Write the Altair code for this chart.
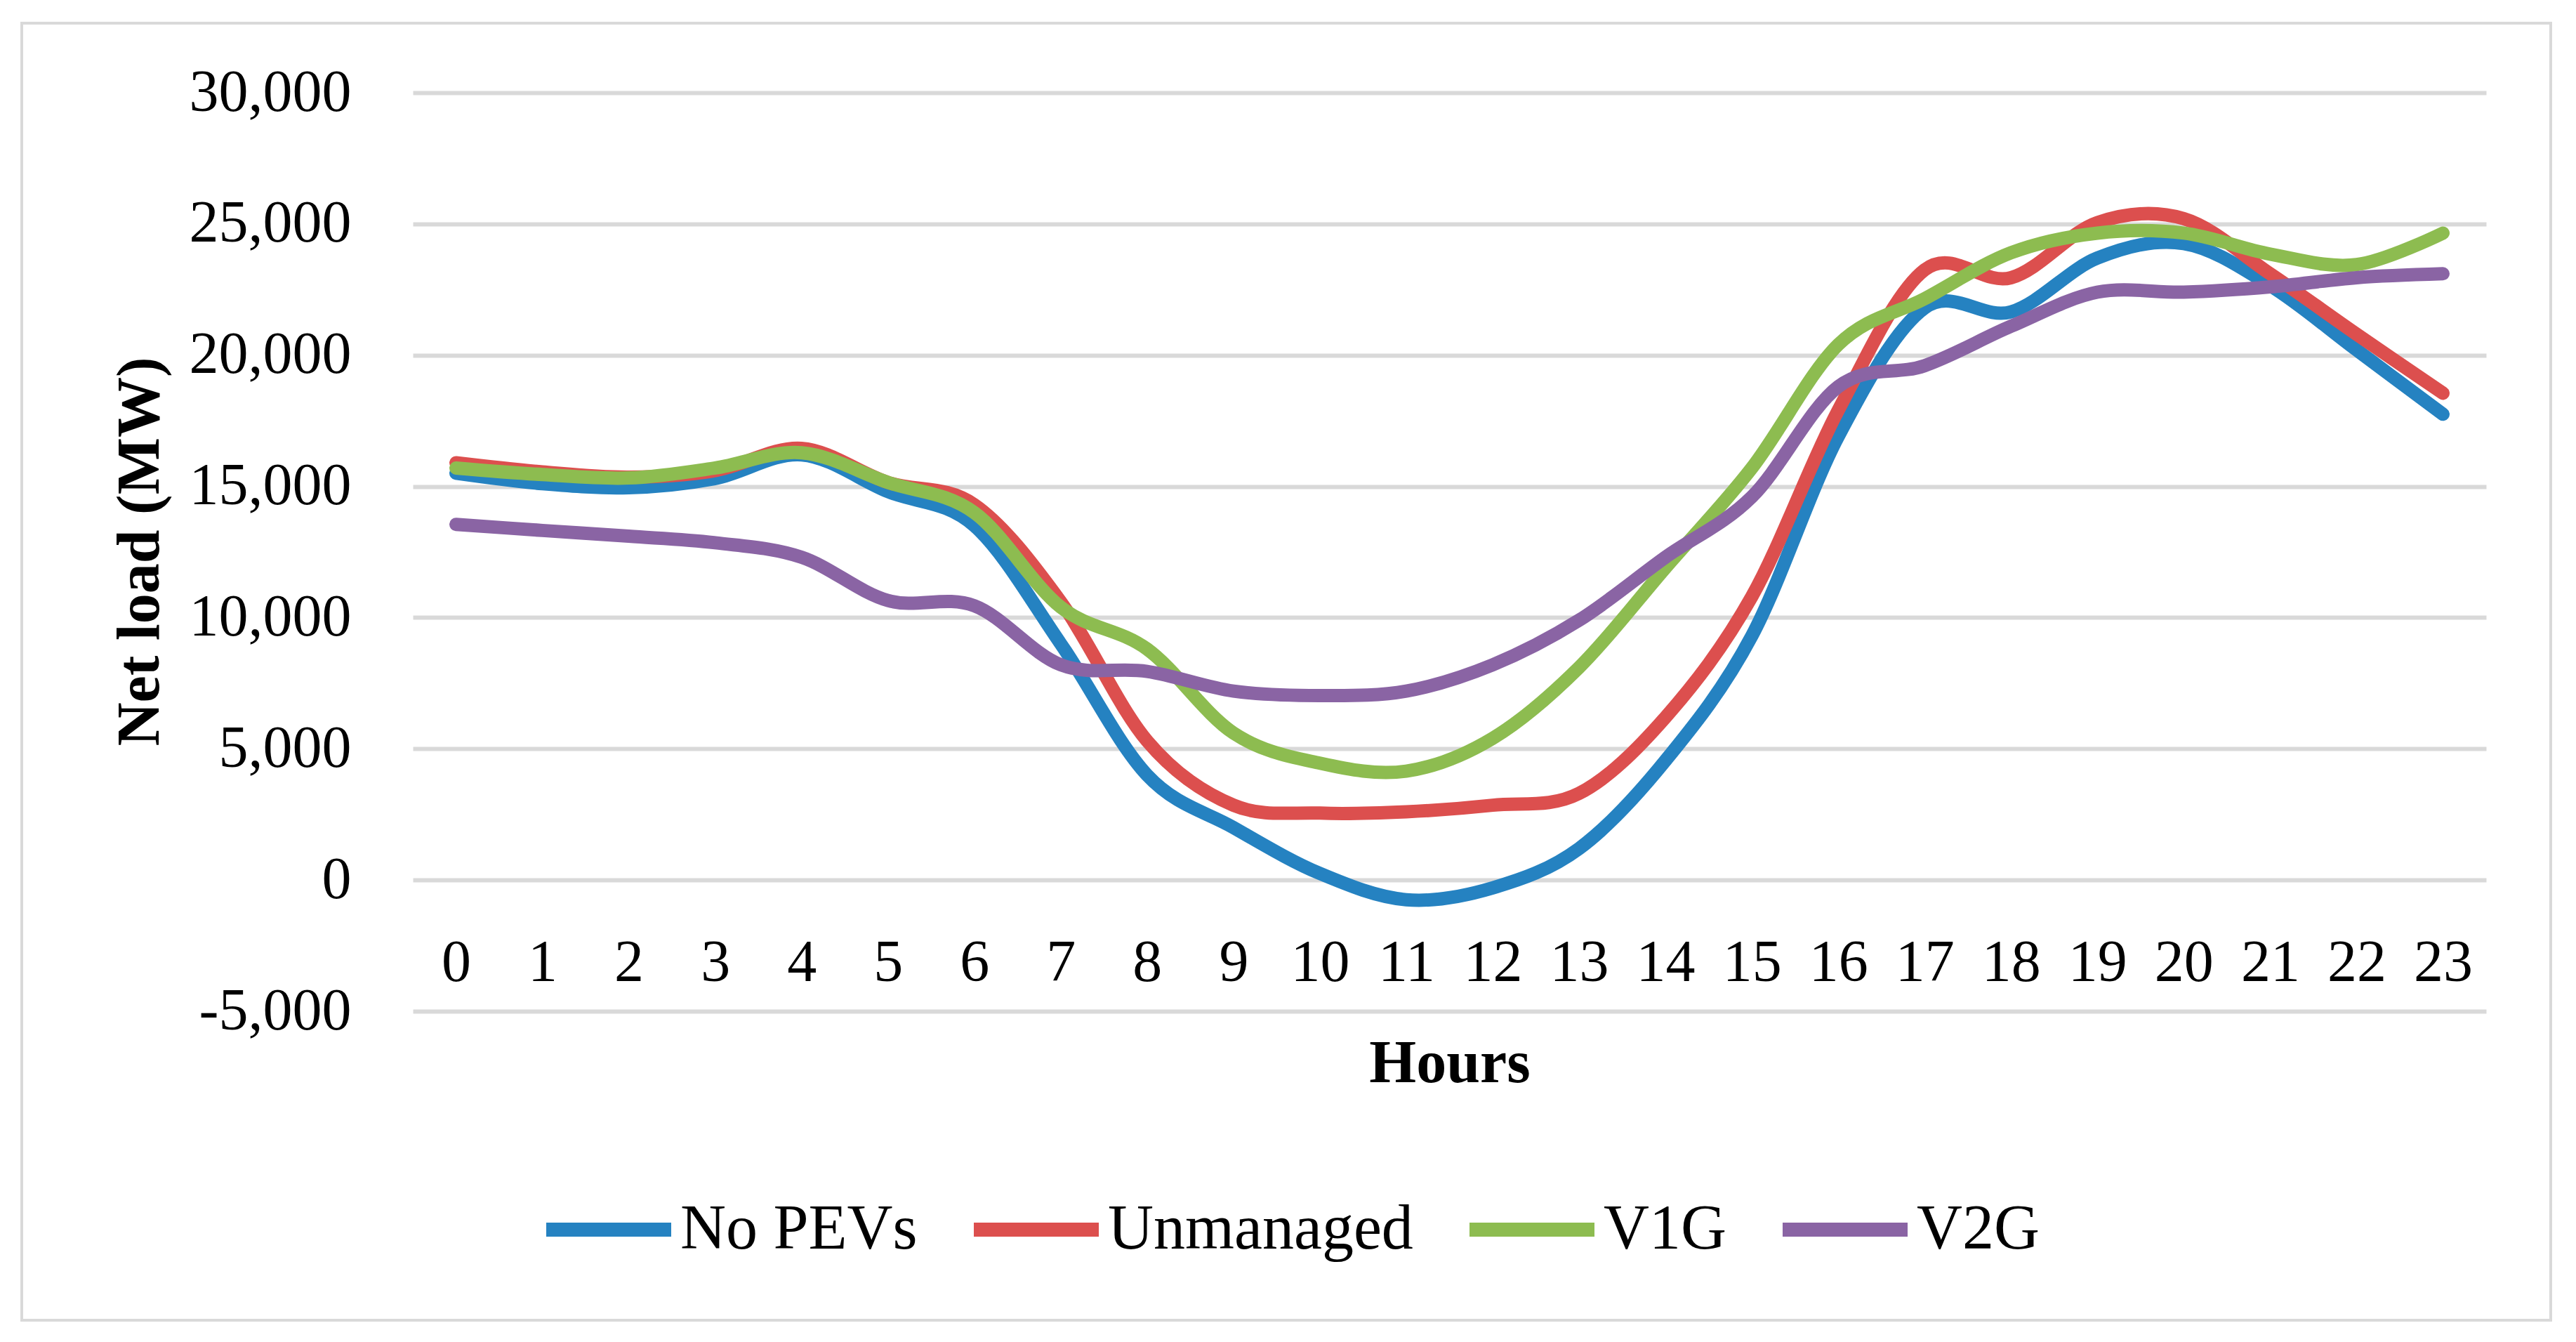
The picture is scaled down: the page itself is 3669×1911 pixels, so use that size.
import altair as alt
import pandas as pd

hours = list(range(24))
series_names = ["No PEVs", "Unmanaged", "V1G", "V2G"]
colors = ["#2582C1", "#DC4F4E", "#8DBC50", "#8A64A4"]

no_pevs = [15500, 15100, 14950, 15300, 16200, 14800, 13500, 9000, 4000, 2000, 250, -750,
           -300, 1200, 4550, 9300, 16900, 21800, 21650, 23700, 24250, 22650, 20200, 17750]
unmanaged = [15900, 15550, 15350, 15600, 16450, 15150, 14300, 10600, 5300, 2850, 2550, 2600,
             2850, 3300, 6200, 10800, 17900, 23250, 22950, 25050, 25200, 23100, 20800, 18550]
v1g = [15700, 15450, 15320, 15700, 16280, 15150, 14000, 10400, 8800, 5600, 4450, 4150,
       5400, 8100, 11900, 15700, 20400, 22150, 23900, 24650, 24650, 23850, 23450, 24650]
v2g = [13550, 13320, 13100, 12850, 12300, 10650, 10450, 8200, 7950, 7200, 7030, 7200,
       8200, 9900, 12300, 14600, 18800, 19600, 21100, 22400, 22400, 22600, 22950, 23100]

y_ticks = [-5000, 0, 5000, 10000, 15000, 20000, 25000, 30000]

rows = []
for name, vals in zip(series_names, [no_pevs, unmanaged, v1g, v2g]):
    for h, v in zip(hours, vals):
        rows.append({"Hour": h, "Load": v, "Series": name})
df = pd.DataFrame(rows)

FONT = "Liberation Serif"
W, H = 2953, 1308

lines = alt.Chart(df).mark_line(interpolate="cardinal", strokeWidth=19, strokeCap="round",
                                strokeJoin="round").encode(
    x=alt.X("Hour:O",
            axis=alt.Axis(title="Hours", labelAngle=0, domain=False, ticks=False, grid=False,
                          offset=-186, labelPadding=117, labelBaseline="middle", labelLimit=0,
                          labelFontSize=84, labelFont=FONT, labelColor="#000000",
                          titleFont=FONT, titleFontSize=86, titleFontWeight="bold",
                          titleColor="#000000", titleY=260, titleBaseline="middle")),
    y=alt.Y("Load:Q",
            scale=alt.Scale(domain=[-5000, 30000], nice=False, zero=False),
            axis=alt.Axis(title="Net load (MW)", values=y_ticks, domain=False, ticks=False,
                          grid=True, gridColor="#D9D9D9", gridWidth=6, labelLimit=0,
                          labelExpr="datum.value < 0 ? '-' + format(-datum.value, ',') : format(datum.value, ',')",
                          labelPadding=88, labelFontSize=84, labelFont=FONT, labelColor="#000000",
                          titleFont=FONT, titleFontSize=86, titleFontWeight="bold",
                          titleColor="#000000", titleX=-389, titleY=653,
                          titleAngle=-90, titleAlign="center", titleBaseline="middle")),
    color=alt.Color("Series:N",
                    scale=alt.Scale(domain=series_names, range=colors),
                    legend=alt.Legend(title=None, orient="none", direction="horizontal",
                                      legendX=180, legendY=1520,
                                      symbolType="stroke", symbolSize=31684,
                                      symbolStrokeWidth=20, labelFontSize=90, labelLimit=0,
                                      labelFont=FONT, labelColor="#000000",
                                      labelOffset=3, columnPadding=40)),
    order=alt.Order("Series:N"),
)

frame = alt.Chart(alt.Data(values=[{"f": 1}])).mark_rect(
    filled=False, stroke="#D9D9D9", strokeWidth=4
).encode(
    x=alt.value(-557), x2=alt.value(3045), y=alt.value(-99), y2=alt.value(1748)
)

chart = alt.layer(frame, lines).properties(
    width=W, height=H,
    autosize=alt.AutoSizeParams(type="none"),
    padding={"left": 580, "top": 124, "right": 110, "bottom": 450},
    background="white",
).configure_view(stroke=None)

chart.save("out.html", embed_options={"renderer": "svg", "actions": False})
